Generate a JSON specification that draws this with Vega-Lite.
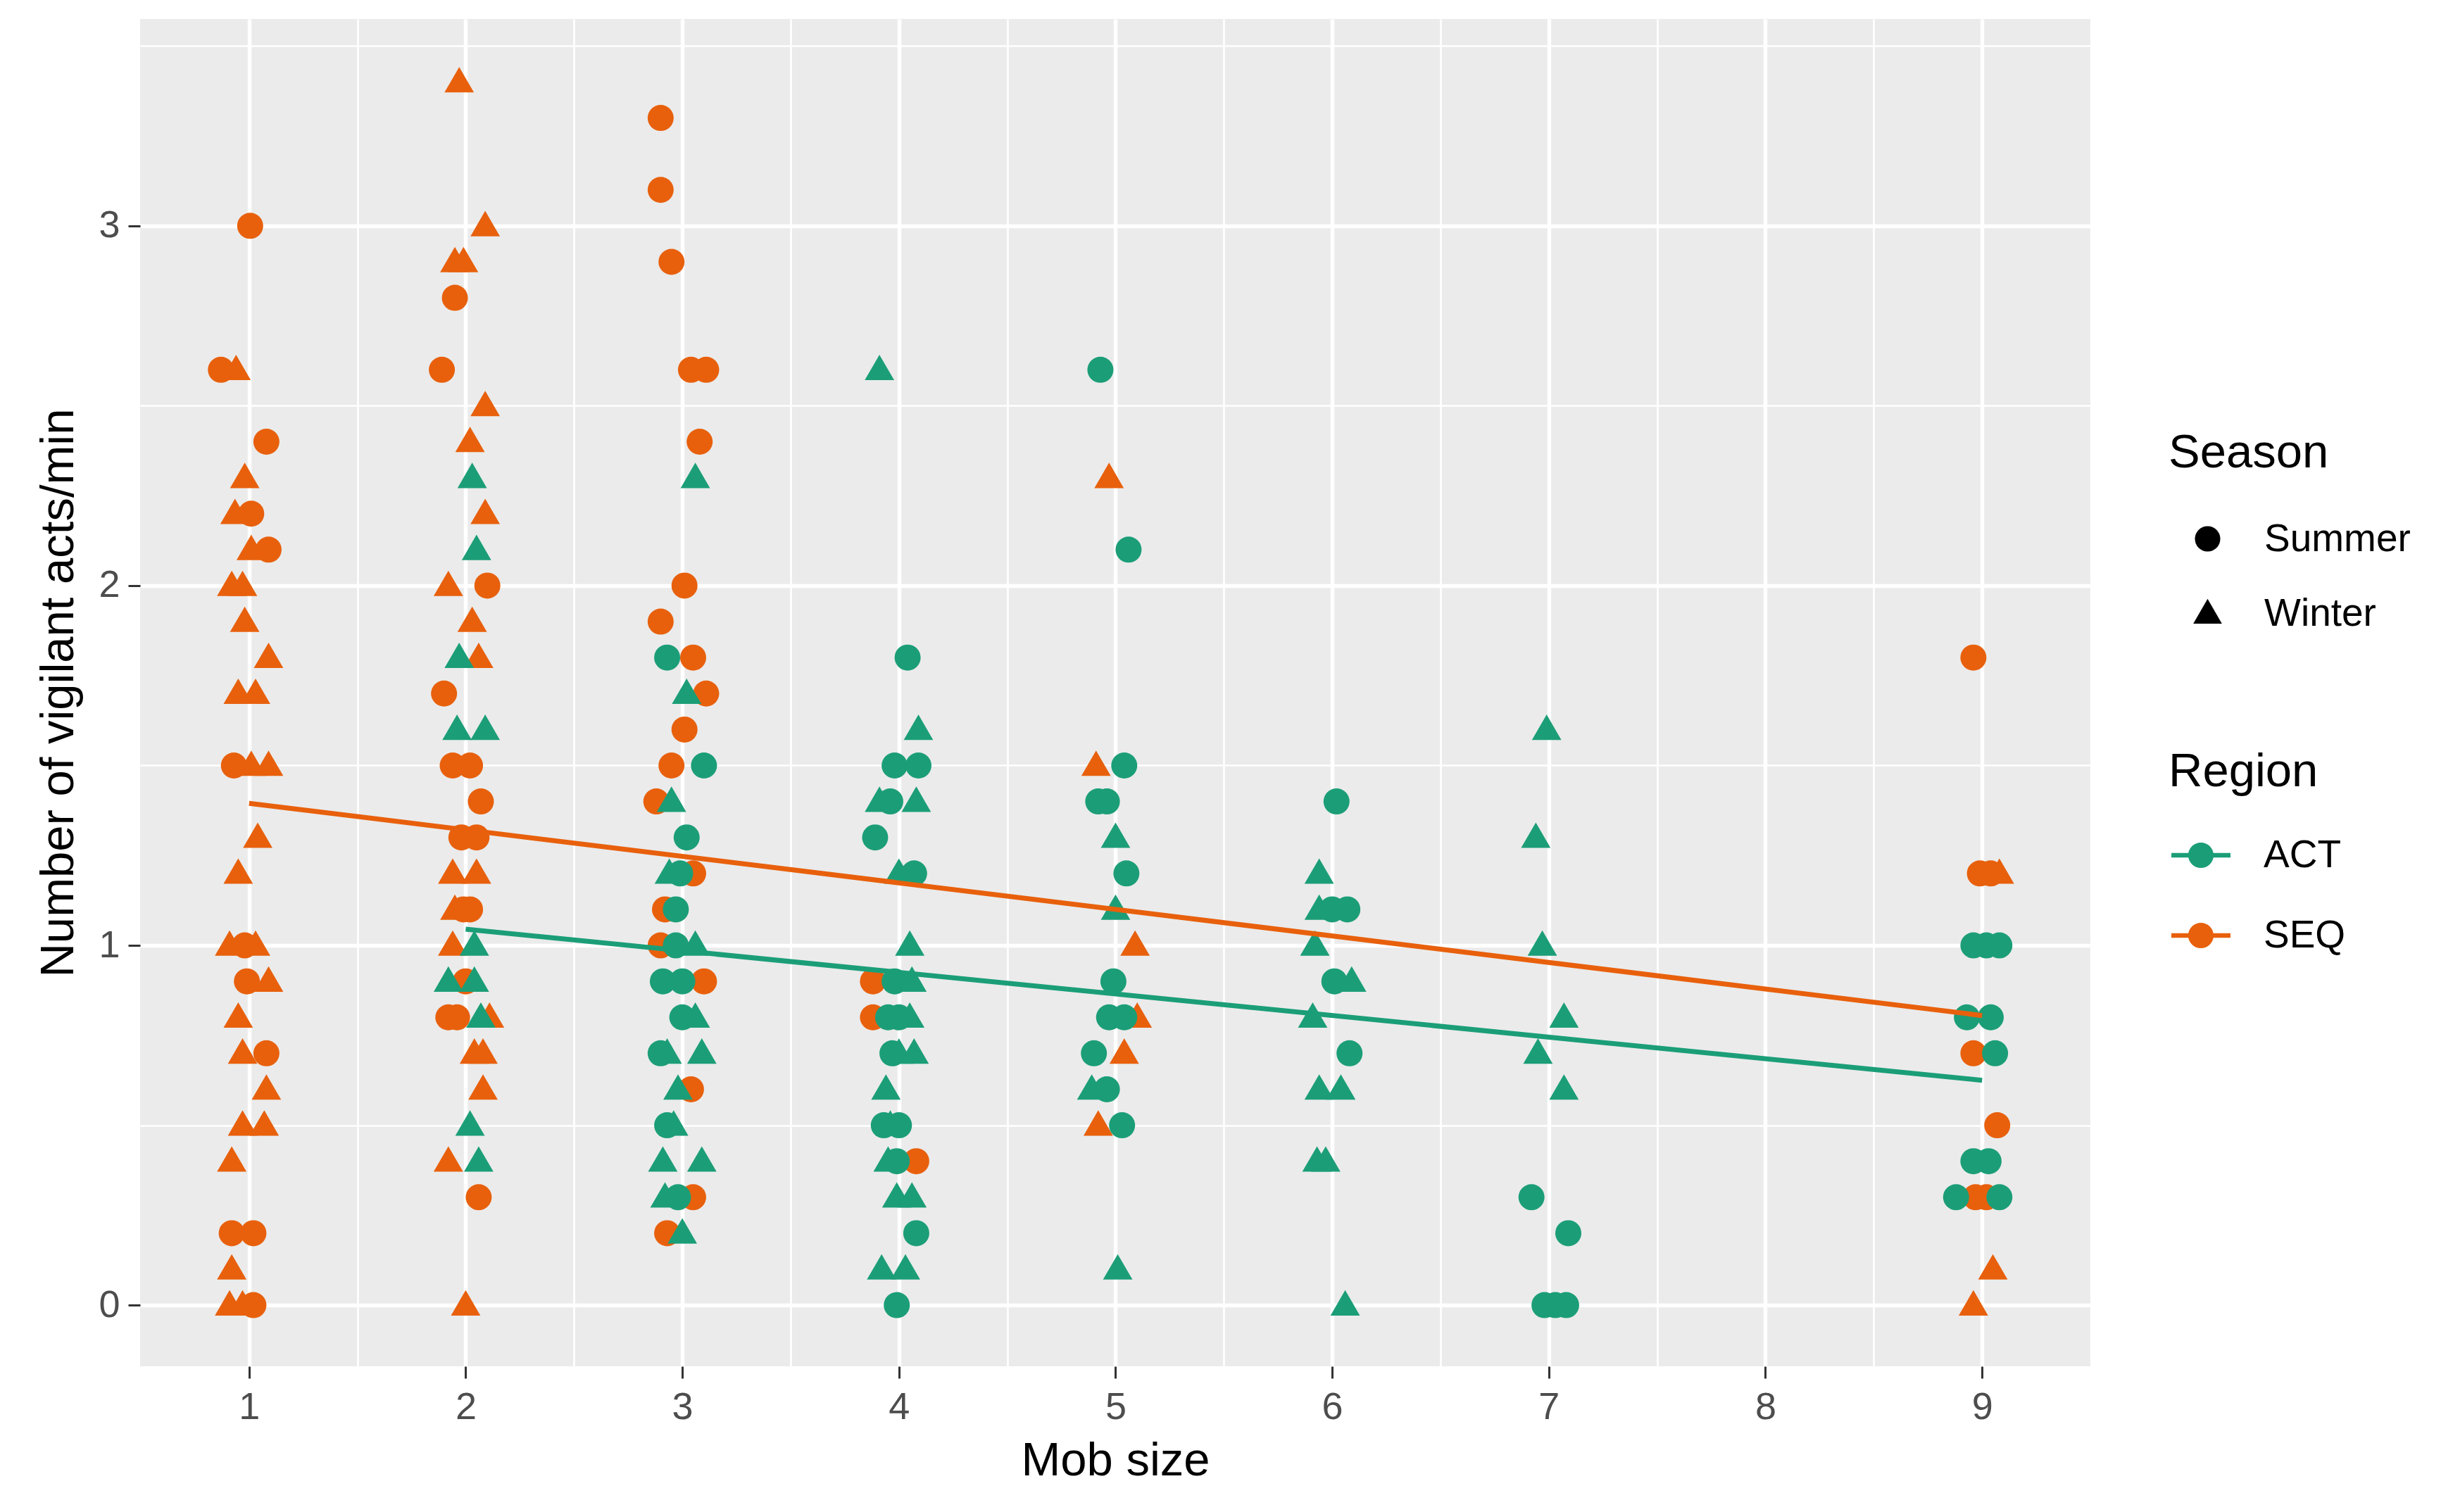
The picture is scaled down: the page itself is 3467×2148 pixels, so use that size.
{
"$schema": "https://vega.github.io/schema/vega-lite/v6.json",
"width": 2770, "height": 1914,
"autosize": {"type": "none"},
"padding": {"left": 199, "top": 27, "right": 498, "bottom": 207},
"background": "white",
"config": {
  "view": {"fill": "#EBEBEB", "stroke": null},
  "font": "Liberation Sans",
  "axis": {"domain": false, "grid": true, "gridColor": "white", "tickColor": "#333333", "tickWidth": 3, "tickSize": 17, "labelColor": "#4D4D4D", "labelFontSize": 54, "labelFont": "Liberation Sans", "titleFont": "Liberation Sans", "titleFontSize": 67, "titleFontWeight": "normal", "titleColor": "black", "labelOverlap": false, "labelFlush": false},
  "legend": {"titleFont": "Liberation Sans", "labelFont": "Liberation Sans", "titleFontSize": 67, "titleFontWeight": "normal", "titleColor": "black", "labelFontSize": 55, "labelColor": "black", "padding": 0, "titleLimit": 1000, "labelLimit": 1000}
},
"datasets": {
"points": [
{"mob":1.005,"rate":3.0,"Season":"Summer","Region":"SEQ"},
{"mob":0.87,"rate":2.6,"Season":"Summer","Region":"SEQ"},
{"mob":0.94,"rate":2.6,"Season":"Winter","Region":"SEQ"},
{"mob":1.08,"rate":2.4,"Season":"Summer","Region":"SEQ"},
{"mob":0.98,"rate":2.3,"Season":"Winter","Region":"SEQ"},
{"mob":0.935,"rate":2.2,"Season":"Winter","Region":"SEQ"},
{"mob":1.01,"rate":2.2,"Season":"Summer","Region":"SEQ"},
{"mob":1.01,"rate":2.1,"Season":"Winter","Region":"SEQ"},
{"mob":1.09,"rate":2.1,"Season":"Summer","Region":"SEQ"},
{"mob":0.92,"rate":2.0,"Season":"Winter","Region":"SEQ"},
{"mob":0.97,"rate":2.0,"Season":"Winter","Region":"SEQ"},
{"mob":0.98,"rate":1.9,"Season":"Winter","Region":"SEQ"},
{"mob":1.09,"rate":1.8,"Season":"Winter","Region":"SEQ"},
{"mob":0.95,"rate":1.7,"Season":"Winter","Region":"SEQ"},
{"mob":1.03,"rate":1.7,"Season":"Winter","Region":"SEQ"},
{"mob":0.93,"rate":1.5,"Season":"Summer","Region":"SEQ"},
{"mob":1.01,"rate":1.5,"Season":"Winter","Region":"SEQ"},
{"mob":1.09,"rate":1.5,"Season":"Winter","Region":"SEQ"},
{"mob":1.04,"rate":1.3,"Season":"Winter","Region":"SEQ"},
{"mob":0.95,"rate":1.2,"Season":"Winter","Region":"SEQ"},
{"mob":0.91,"rate":1.0,"Season":"Winter","Region":"SEQ"},
{"mob":0.98,"rate":1.0,"Season":"Summer","Region":"SEQ"},
{"mob":1.03,"rate":1.0,"Season":"Winter","Region":"SEQ"},
{"mob":0.99,"rate":0.9,"Season":"Summer","Region":"SEQ"},
{"mob":1.09,"rate":0.9,"Season":"Winter","Region":"SEQ"},
{"mob":0.95,"rate":0.8,"Season":"Winter","Region":"SEQ"},
{"mob":0.97,"rate":0.7,"Season":"Winter","Region":"SEQ"},
{"mob":1.08,"rate":0.7,"Season":"Summer","Region":"SEQ"},
{"mob":1.08,"rate":0.6,"Season":"Winter","Region":"SEQ"},
{"mob":0.97,"rate":0.5,"Season":"Winter","Region":"SEQ"},
{"mob":1.07,"rate":0.5,"Season":"Winter","Region":"SEQ"},
{"mob":0.92,"rate":0.4,"Season":"Winter","Region":"SEQ"},
{"mob":0.92,"rate":0.2,"Season":"Summer","Region":"SEQ"},
{"mob":1.02,"rate":0.2,"Season":"Summer","Region":"SEQ"},
{"mob":0.92,"rate":0.1,"Season":"Winter","Region":"SEQ"},
{"mob":0.91,"rate":0.0,"Season":"Winter","Region":"SEQ"},
{"mob":0.97,"rate":0.0,"Season":"Winter","Region":"SEQ"},
{"mob":1.02,"rate":0.0,"Season":"Summer","Region":"SEQ"},
{"mob":1.97,"rate":3.4,"Season":"Winter","Region":"SEQ"},
{"mob":2.09,"rate":3.0,"Season":"Winter","Region":"SEQ"},
{"mob":1.95,"rate":2.9,"Season":"Winter","Region":"SEQ"},
{"mob":1.99,"rate":2.9,"Season":"Winter","Region":"SEQ"},
{"mob":1.95,"rate":2.8,"Season":"Summer","Region":"SEQ"},
{"mob":1.89,"rate":2.6,"Season":"Summer","Region":"SEQ"},
{"mob":2.09,"rate":2.5,"Season":"Winter","Region":"SEQ"},
{"mob":2.02,"rate":2.4,"Season":"Winter","Region":"SEQ"},
{"mob":2.09,"rate":2.2,"Season":"Winter","Region":"SEQ"},
{"mob":1.92,"rate":2.0,"Season":"Winter","Region":"SEQ"},
{"mob":2.10,"rate":2.0,"Season":"Summer","Region":"SEQ"},
{"mob":2.03,"rate":1.9,"Season":"Winter","Region":"SEQ"},
{"mob":2.06,"rate":1.8,"Season":"Winter","Region":"SEQ"},
{"mob":1.90,"rate":1.7,"Season":"Summer","Region":"SEQ"},
{"mob":1.94,"rate":1.5,"Season":"Summer","Region":"SEQ"},
{"mob":2.02,"rate":1.5,"Season":"Summer","Region":"SEQ"},
{"mob":2.07,"rate":1.4,"Season":"Summer","Region":"SEQ"},
{"mob":1.98,"rate":1.3,"Season":"Summer","Region":"SEQ"},
{"mob":2.05,"rate":1.3,"Season":"Summer","Region":"SEQ"},
{"mob":1.94,"rate":1.2,"Season":"Winter","Region":"SEQ"},
{"mob":2.05,"rate":1.2,"Season":"Winter","Region":"SEQ"},
{"mob":1.95,"rate":1.1,"Season":"Winter","Region":"SEQ"},
{"mob":1.99,"rate":1.1,"Season":"Summer","Region":"SEQ"},
{"mob":2.02,"rate":1.1,"Season":"Summer","Region":"SEQ"},
{"mob":1.94,"rate":1.0,"Season":"Winter","Region":"SEQ"},
{"mob":2.00,"rate":0.9,"Season":"Summer","Region":"SEQ"},
{"mob":1.92,"rate":0.8,"Season":"Summer","Region":"SEQ"},
{"mob":1.96,"rate":0.8,"Season":"Summer","Region":"SEQ"},
{"mob":2.11,"rate":0.8,"Season":"Winter","Region":"SEQ"},
{"mob":2.04,"rate":0.7,"Season":"Winter","Region":"SEQ"},
{"mob":2.08,"rate":0.7,"Season":"Winter","Region":"SEQ"},
{"mob":2.08,"rate":0.6,"Season":"Winter","Region":"SEQ"},
{"mob":1.92,"rate":0.4,"Season":"Winter","Region":"SEQ"},
{"mob":2.06,"rate":0.3,"Season":"Summer","Region":"SEQ"},
{"mob":2.00,"rate":0.0,"Season":"Winter","Region":"SEQ"},
{"mob":2.90,"rate":3.3,"Season":"Summer","Region":"SEQ"},
{"mob":2.90,"rate":3.1,"Season":"Summer","Region":"SEQ"},
{"mob":2.95,"rate":2.9,"Season":"Summer","Region":"SEQ"},
{"mob":3.04,"rate":2.6,"Season":"Summer","Region":"SEQ"},
{"mob":3.11,"rate":2.6,"Season":"Summer","Region":"SEQ"},
{"mob":3.08,"rate":2.4,"Season":"Summer","Region":"SEQ"},
{"mob":3.01,"rate":2.0,"Season":"Summer","Region":"SEQ"},
{"mob":2.90,"rate":1.9,"Season":"Summer","Region":"SEQ"},
{"mob":3.05,"rate":1.8,"Season":"Summer","Region":"SEQ"},
{"mob":3.11,"rate":1.7,"Season":"Summer","Region":"SEQ"},
{"mob":3.01,"rate":1.6,"Season":"Summer","Region":"SEQ"},
{"mob":2.95,"rate":1.5,"Season":"Summer","Region":"SEQ"},
{"mob":2.88,"rate":1.4,"Season":"Summer","Region":"SEQ"},
{"mob":3.05,"rate":1.2,"Season":"Summer","Region":"SEQ"},
{"mob":2.92,"rate":1.1,"Season":"Summer","Region":"SEQ"},
{"mob":2.90,"rate":1.0,"Season":"Summer","Region":"SEQ"},
{"mob":3.10,"rate":0.9,"Season":"Summer","Region":"SEQ"},
{"mob":3.04,"rate":0.6,"Season":"Summer","Region":"SEQ"},
{"mob":3.05,"rate":0.3,"Season":"Summer","Region":"SEQ"},
{"mob":2.93,"rate":0.2,"Season":"Summer","Region":"SEQ"},
{"mob":3.88,"rate":0.9,"Season":"Summer","Region":"SEQ"},
{"mob":3.88,"rate":0.8,"Season":"Summer","Region":"SEQ"},
{"mob":4.08,"rate":0.4,"Season":"Summer","Region":"SEQ"},
{"mob":4.97,"rate":2.3,"Season":"Winter","Region":"SEQ"},
{"mob":4.91,"rate":1.5,"Season":"Winter","Region":"SEQ"},
{"mob":5.09,"rate":1.0,"Season":"Winter","Region":"SEQ"},
{"mob":5.10,"rate":0.8,"Season":"Winter","Region":"SEQ"},
{"mob":5.04,"rate":0.7,"Season":"Winter","Region":"SEQ"},
{"mob":4.92,"rate":0.5,"Season":"Winter","Region":"SEQ"},
{"mob":8.96,"rate":1.8,"Season":"Summer","Region":"SEQ"},
{"mob":8.99,"rate":1.2,"Season":"Summer","Region":"SEQ"},
{"mob":9.04,"rate":1.2,"Season":"Summer","Region":"SEQ"},
{"mob":9.08,"rate":1.2,"Season":"Winter","Region":"SEQ"},
{"mob":8.96,"rate":0.7,"Season":"Summer","Region":"SEQ"},
{"mob":9.07,"rate":0.5,"Season":"Summer","Region":"SEQ"},
{"mob":8.97,"rate":0.3,"Season":"Summer","Region":"SEQ"},
{"mob":9.02,"rate":0.3,"Season":"Summer","Region":"SEQ"},
{"mob":9.05,"rate":0.1,"Season":"Winter","Region":"SEQ"},
{"mob":8.96,"rate":0.0,"Season":"Winter","Region":"SEQ"},
{"mob":2.03,"rate":2.3,"Season":"Winter","Region":"ACT"},
{"mob":2.05,"rate":2.1,"Season":"Winter","Region":"ACT"},
{"mob":1.97,"rate":1.8,"Season":"Winter","Region":"ACT"},
{"mob":1.96,"rate":1.6,"Season":"Winter","Region":"ACT"},
{"mob":2.09,"rate":1.6,"Season":"Winter","Region":"ACT"},
{"mob":2.04,"rate":1.0,"Season":"Winter","Region":"ACT"},
{"mob":1.92,"rate":0.9,"Season":"Winter","Region":"ACT"},
{"mob":2.04,"rate":0.9,"Season":"Winter","Region":"ACT"},
{"mob":2.07,"rate":0.8,"Season":"Winter","Region":"ACT"},
{"mob":2.02,"rate":0.5,"Season":"Winter","Region":"ACT"},
{"mob":2.06,"rate":0.4,"Season":"Winter","Region":"ACT"},
{"mob":3.06,"rate":2.3,"Season":"Winter","Region":"ACT"},
{"mob":2.93,"rate":1.8,"Season":"Summer","Region":"ACT"},
{"mob":3.02,"rate":1.7,"Season":"Winter","Region":"ACT"},
{"mob":3.10,"rate":1.5,"Season":"Summer","Region":"ACT"},
{"mob":2.95,"rate":1.4,"Season":"Winter","Region":"ACT"},
{"mob":3.02,"rate":1.3,"Season":"Summer","Region":"ACT"},
{"mob":2.94,"rate":1.2,"Season":"Winter","Region":"ACT"},
{"mob":2.99,"rate":1.2,"Season":"Summer","Region":"ACT"},
{"mob":2.97,"rate":1.1,"Season":"Summer","Region":"ACT"},
{"mob":2.97,"rate":1.0,"Season":"Summer","Region":"ACT"},
{"mob":3.06,"rate":1.0,"Season":"Winter","Region":"ACT"},
{"mob":2.91,"rate":0.9,"Season":"Summer","Region":"ACT"},
{"mob":3.00,"rate":0.9,"Season":"Summer","Region":"ACT"},
{"mob":3.00,"rate":0.8,"Season":"Summer","Region":"ACT"},
{"mob":3.06,"rate":0.8,"Season":"Winter","Region":"ACT"},
{"mob":2.90,"rate":0.7,"Season":"Summer","Region":"ACT"},
{"mob":2.93,"rate":0.7,"Season":"Winter","Region":"ACT"},
{"mob":3.09,"rate":0.7,"Season":"Winter","Region":"ACT"},
{"mob":2.98,"rate":0.6,"Season":"Winter","Region":"ACT"},
{"mob":2.93,"rate":0.5,"Season":"Summer","Region":"ACT"},
{"mob":2.96,"rate":0.5,"Season":"Winter","Region":"ACT"},
{"mob":2.91,"rate":0.4,"Season":"Winter","Region":"ACT"},
{"mob":3.09,"rate":0.4,"Season":"Winter","Region":"ACT"},
{"mob":2.92,"rate":0.3,"Season":"Winter","Region":"ACT"},
{"mob":2.98,"rate":0.3,"Season":"Summer","Region":"ACT"},
{"mob":3.00,"rate":0.2,"Season":"Winter","Region":"ACT"},
{"mob":3.91,"rate":2.6,"Season":"Winter","Region":"ACT"},
{"mob":4.04,"rate":1.8,"Season":"Summer","Region":"ACT"},
{"mob":4.09,"rate":1.6,"Season":"Winter","Region":"ACT"},
{"mob":3.98,"rate":1.5,"Season":"Summer","Region":"ACT"},
{"mob":4.09,"rate":1.5,"Season":"Summer","Region":"ACT"},
{"mob":3.91,"rate":1.4,"Season":"Winter","Region":"ACT"},
{"mob":3.96,"rate":1.4,"Season":"Summer","Region":"ACT"},
{"mob":4.08,"rate":1.4,"Season":"Winter","Region":"ACT"},
{"mob":3.89,"rate":1.3,"Season":"Summer","Region":"ACT"},
{"mob":4.00,"rate":1.2,"Season":"Winter","Region":"ACT"},
{"mob":4.07,"rate":1.2,"Season":"Summer","Region":"ACT"},
{"mob":4.05,"rate":1.0,"Season":"Winter","Region":"ACT"},
{"mob":3.98,"rate":0.9,"Season":"Summer","Region":"ACT"},
{"mob":4.06,"rate":0.9,"Season":"Winter","Region":"ACT"},
{"mob":3.95,"rate":0.8,"Season":"Summer","Region":"ACT"},
{"mob":4.00,"rate":0.8,"Season":"Summer","Region":"ACT"},
{"mob":4.05,"rate":0.8,"Season":"Winter","Region":"ACT"},
{"mob":3.97,"rate":0.7,"Season":"Summer","Region":"ACT"},
{"mob":4.00,"rate":0.7,"Season":"Winter","Region":"ACT"},
{"mob":4.07,"rate":0.7,"Season":"Winter","Region":"ACT"},
{"mob":3.94,"rate":0.6,"Season":"Winter","Region":"ACT"},
{"mob":3.93,"rate":0.5,"Season":"Summer","Region":"ACT"},
{"mob":3.96,"rate":0.5,"Season":"Winter","Region":"ACT"},
{"mob":4.00,"rate":0.5,"Season":"Summer","Region":"ACT"},
{"mob":3.95,"rate":0.4,"Season":"Winter","Region":"ACT"},
{"mob":3.99,"rate":0.4,"Season":"Summer","Region":"ACT"},
{"mob":3.99,"rate":0.3,"Season":"Winter","Region":"ACT"},
{"mob":4.06,"rate":0.3,"Season":"Winter","Region":"ACT"},
{"mob":4.08,"rate":0.2,"Season":"Summer","Region":"ACT"},
{"mob":3.92,"rate":0.1,"Season":"Winter","Region":"ACT"},
{"mob":4.03,"rate":0.1,"Season":"Winter","Region":"ACT"},
{"mob":3.99,"rate":0.0,"Season":"Summer","Region":"ACT"},
{"mob":4.93,"rate":2.6,"Season":"Summer","Region":"ACT"},
{"mob":5.06,"rate":2.1,"Season":"Summer","Region":"ACT"},
{"mob":5.04,"rate":1.5,"Season":"Summer","Region":"ACT"},
{"mob":4.92,"rate":1.4,"Season":"Summer","Region":"ACT"},
{"mob":4.96,"rate":1.4,"Season":"Summer","Region":"ACT"},
{"mob":5.00,"rate":1.3,"Season":"Winter","Region":"ACT"},
{"mob":5.05,"rate":1.2,"Season":"Summer","Region":"ACT"},
{"mob":5.00,"rate":1.1,"Season":"Winter","Region":"ACT"},
{"mob":4.99,"rate":0.9,"Season":"Summer","Region":"ACT"},
{"mob":4.97,"rate":0.8,"Season":"Summer","Region":"ACT"},
{"mob":5.04,"rate":0.8,"Season":"Summer","Region":"ACT"},
{"mob":4.90,"rate":0.7,"Season":"Summer","Region":"ACT"},
{"mob":4.89,"rate":0.6,"Season":"Winter","Region":"ACT"},
{"mob":4.96,"rate":0.6,"Season":"Summer","Region":"ACT"},
{"mob":5.03,"rate":0.5,"Season":"Summer","Region":"ACT"},
{"mob":5.01,"rate":0.1,"Season":"Winter","Region":"ACT"},
{"mob":6.02,"rate":1.4,"Season":"Summer","Region":"ACT"},
{"mob":5.94,"rate":1.2,"Season":"Winter","Region":"ACT"},
{"mob":5.94,"rate":1.1,"Season":"Winter","Region":"ACT"},
{"mob":6.00,"rate":1.1,"Season":"Summer","Region":"ACT"},
{"mob":6.07,"rate":1.1,"Season":"Summer","Region":"ACT"},
{"mob":5.92,"rate":1.0,"Season":"Winter","Region":"ACT"},
{"mob":6.01,"rate":0.9,"Season":"Summer","Region":"ACT"},
{"mob":6.09,"rate":0.9,"Season":"Winter","Region":"ACT"},
{"mob":5.91,"rate":0.8,"Season":"Winter","Region":"ACT"},
{"mob":6.08,"rate":0.7,"Season":"Summer","Region":"ACT"},
{"mob":5.94,"rate":0.6,"Season":"Winter","Region":"ACT"},
{"mob":6.04,"rate":0.6,"Season":"Winter","Region":"ACT"},
{"mob":5.93,"rate":0.4,"Season":"Winter","Region":"ACT"},
{"mob":5.97,"rate":0.4,"Season":"Winter","Region":"ACT"},
{"mob":6.06,"rate":0.0,"Season":"Winter","Region":"ACT"},
{"mob":6.99,"rate":1.6,"Season":"Winter","Region":"ACT"},
{"mob":6.94,"rate":1.3,"Season":"Winter","Region":"ACT"},
{"mob":6.97,"rate":1.0,"Season":"Winter","Region":"ACT"},
{"mob":7.07,"rate":0.8,"Season":"Winter","Region":"ACT"},
{"mob":6.95,"rate":0.7,"Season":"Winter","Region":"ACT"},
{"mob":7.07,"rate":0.6,"Season":"Winter","Region":"ACT"},
{"mob":6.92,"rate":0.3,"Season":"Summer","Region":"ACT"},
{"mob":7.09,"rate":0.2,"Season":"Summer","Region":"ACT"},
{"mob":6.98,"rate":0.0,"Season":"Summer","Region":"ACT"},
{"mob":7.03,"rate":0.0,"Season":"Summer","Region":"ACT"},
{"mob":7.08,"rate":0.0,"Season":"Summer","Region":"ACT"},
{"mob":8.96,"rate":1.0,"Season":"Summer","Region":"ACT"},
{"mob":9.02,"rate":1.0,"Season":"Summer","Region":"ACT"},
{"mob":9.08,"rate":1.0,"Season":"Summer","Region":"ACT"},
{"mob":8.93,"rate":0.8,"Season":"Summer","Region":"ACT"},
{"mob":9.04,"rate":0.8,"Season":"Summer","Region":"ACT"},
{"mob":9.06,"rate":0.7,"Season":"Summer","Region":"ACT"},
{"mob":8.96,"rate":0.4,"Season":"Summer","Region":"ACT"},
{"mob":9.03,"rate":0.4,"Season":"Summer","Region":"ACT"},
{"mob":8.88,"rate":0.3,"Season":"Summer","Region":"ACT"},
{"mob":9.08,"rate":0.3,"Season":"Summer","Region":"ACT"}
],
"fits": [
{"mob":1,"rate":1.395,"Region":"SEQ"},
{"mob":9,"rate":0.805,"Region":"SEQ"},
{"mob":2,"rate":1.045,"Region":"ACT"},
{"mob":9,"rate":0.625,"Region":"ACT"}
]
},
"layer": [
{
  "data": {"name": "points"},
  "mark": {"type": "point", "filled": true, "opacity": 1, "strokeWidth": 0, "size": 1369},
  "encoding": {
    "x": {"field": "mob", "type": "quantitative", "title": "Mob size",
      "scale": {"domain": [0.497, 9.5], "nice": false, "zero": false},
      "axis": {"values": [1,1.5,2,2.5,3,3.5,4,4.5,5,5.5,6,6.5,7,7.5,8,8.5,9],
        "labelExpr": "datum.value % 1 === 0 ? format(datum.value, 'd') : ''",
        "gridWidth": {"condition": {"test": "datum.value % 1 !== 0", "value": 2.7}, "value": 5.4},
        "tickOpacity": {"condition": {"test": "datum.value % 1 !== 0", "value": 0}, "value": 1},
        "labelPadding": 14, "titlePadding": 16}},
    "y": {"field": "rate", "type": "quantitative", "title": "Number of vigilant acts/min",
      "scale": {"domain": [-0.17, 3.575], "nice": false, "zero": false},
      "axis": {"values": [0,0.5,1,1.5,2,2.5,3,3.5],
        "labelExpr": "datum.value % 1 === 0 ? format(datum.value, 'd') : ''",
        "gridWidth": {"condition": {"test": "datum.value % 1 !== 0", "value": 2.7}, "value": 5.4},
        "tickOpacity": {"condition": {"test": "datum.value % 1 !== 0", "value": 0}, "value": 1},
        "labelPadding": 12, "titlePadding": 22}},
    "color": {"field": "Region", "type": "nominal",
      "scale": {"domain": ["ACT", "SEQ"], "range": ["#1B9E77", "#E8600C"]},
      "legend": {"title": "Region", "orient": "none", "legendX": 2881, "legendY": 1037,
        "symbolType": "M-1,-0.08H1V0.08H-1Z M-0.43,0A0.43,0.43 0 1,1 0.43,0A0.43,0.43 0 1,1 -0.43,0Z",
        "symbolSize": 7056, "symbolStrokeWidth": 0, "symbolOpacity": 1,
        "rowPadding": 44, "titlePadding": 42, "symbolOffset": 4, "labelOffset": 47}},
    "shape": {"field": "Season", "type": "nominal",
      "scale": {"domain": ["Summer", "Winter"], "range": ["circle", "M0,-1.15L1.13,0.8L-1.13,0.8Z"]},
      "legend": {"title": "Season", "orient": "none", "legendX": 2881, "legendY": 584,
        "symbolSize": 1296, "symbolFillColor": "black", "symbolStrokeWidth": 0, "symbolOpacity": 1,
        "rowPadding": 50, "titlePadding": 60, "symbolOffset": 28, "labelOffset": 53}}
  }
},
{
  "data": {"name": "fits"},
  "mark": {"type": "line", "strokeWidth": 7},
  "encoding": {
    "x": {"field": "mob", "type": "quantitative"},
    "y": {"field": "rate", "type": "quantitative"},
    "color": {"field": "Region", "type": "nominal"},
    "detail": {"field": "Region", "type": "nominal"}
  }
}
]
}
